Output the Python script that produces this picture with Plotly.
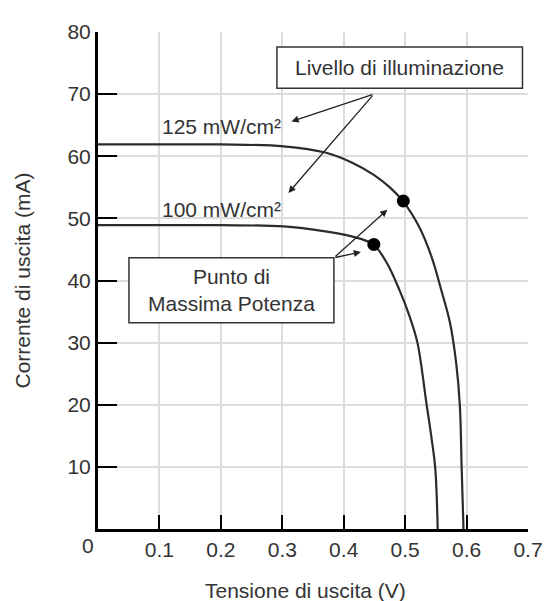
import plotly.graph_objects as go

# ---- data ----
v_125 = [0.0, 0.1, 0.2, 0.302, 0.370, 0.413, 0.449, 0.476, 0.497, 0.523, 0.543, 0.559, 0.573, 0.583, 0.589, 0.592, 0.595]
i_125 = [61.9, 61.9, 61.9, 61.6, 60.6, 59.0, 57.0, 54.9, 52.7, 48.6, 43.8, 38.4, 33.2, 26.8, 20.0, 9.8, 0.0]

v_100 = [0.0, 0.1, 0.2, 0.302, 0.370, 0.413, 0.439, 0.449, 0.471, 0.491, 0.507, 0.520, 0.535, 0.543, 0.549, 0.553]
i_100 = [48.9, 48.9, 48.9, 48.7, 47.9, 47.1, 46.3, 45.8, 42.7, 38.4, 34.3, 30.0, 20.0, 14.6, 9.8, 0.0]

mpp_v = [0.497, 0.449]
mpp_i = [52.8, 45.8]

x_ticks = [0.1, 0.2, 0.3, 0.4, 0.5, 0.6, 0.7]
x_labels = ["0.1", "0.2", "0.3", "0.4", "0.5", "0.6", "0.7"]
y_ticks = [10, 20, 30, 40, 50, 60, 70, 80]
y_labels = ["10", "20", "30", "40", "50", "60", "70", "80"]

FONT = "Liberation Sans, Arial, sans-serif"
TXT = "#333333"
FS = 21

fig = go.Figure()
for vv, ii in ((v_125, i_125), (v_100, i_100)):
    fig.add_trace(go.Scatter(x=vv, y=ii, mode="lines",
                             line=dict(color="#2b2b2b", width=2.2, shape="spline", smoothing=1.0),
                             showlegend=False))
fig.add_trace(go.Scatter(x=mpp_v, y=mpp_i, mode="markers", marker=dict(color="black", size=13), showlegend=False))

# boxes
fig.add_shape(type="rect", x0=0.2913, x1=0.691, y0=70.95, y1=77.6, xref="x", yref="y",
              line=dict(color="#333", width=1.5), fillcolor="white", layer="above")
fig.add_shape(type="rect", x0=0.0504, x1=0.384, y0=33.2, y1=43.65, xref="x", yref="y",
              line=dict(color="#333", width=1.5), fillcolor="white", layer="above")

ann = [
    dict(x=0.491, y=74.3, text="Livello di illuminazione"),
    dict(x=0.217, y=38.4, text="Punto di<br>Massima Potenza"),
    dict(x=0.2016, y=64.8, text="125 mW/cm²"),
    dict(x=0.2016, y=51.4, text="100 mW/cm²"),
]
for a in ann:
    fig.add_annotation(x=a["x"], y=a["y"], text=a["text"], showarrow=False, xref="x", yref="y",
                       xanchor="center", yanchor="middle",
                       font=dict(family=FONT, size=FS, color=TXT))

arrows = [
    (0.315, 65.6, 0.449, 70.0),
    (0.310, 54.1, 0.449, 70.0),
    (0.471, 51.4, 0.384, 43.65),
    (0.428, 44.6, 0.384, 43.65),
]
for hx, hy, tx, ty in arrows:
    fig.add_annotation(x=hx, y=hy, ax=tx, ay=ty, xref="x", yref="y", axref="x", ayref="y",
                       text="", showarrow=True, arrowhead=2, arrowsize=1.1, arrowwidth=1.3,
                       arrowcolor="#222")

# "0" at origin
fig.add_annotation(x=-0.0225, y=0, xref="paper", yref="paper", yshift=-16, text="0",
                   xanchor="center", yanchor="middle",
                   showarrow=False, font=dict(family=FONT, size=FS, color=TXT))
# axis titles
fig.add_annotation(x=0.483, y=0, xref="paper", yref="paper", yshift=-61, text="Tensione di uscita (V)",
                   xanchor="center", yanchor="middle",
                   showarrow=False, font=dict(family=FONT, size=FS, color=TXT))
fig.add_annotation(x=0, y=0.5, xref="paper", yref="paper", xshift=-76, text="Corrente di uscita (mA)",
                   xanchor="center", yanchor="middle",
                   textangle=-90, showarrow=False, font=dict(family=FONT, size=FS, color=TXT))

fig.update_xaxes(range=[0, 0.7], tickvals=x_ticks, ticktext=x_labels, ticks="inside", ticklen=14,
                 tickwidth=2, tickcolor="black", showline=True, linecolor="black", linewidth=3,
                 showgrid=True, gridcolor="#dcdcdc", gridwidth=2, zeroline=False,
                 ticklabeloverflow="allow",
                 tickfont=dict(family=FONT, size=FS, color=TXT))
fig.update_yaxes(range=[0, 80], tickvals=y_ticks, ticktext=y_labels, ticks="inside", ticklen=19,
                 tickwidth=2, tickcolor="black", showline=True, linecolor="black", linewidth=3,
                 showgrid=True, gridcolor="#dcdcdc", gridwidth=2, zeroline=False,
                 ticklabeloverflow="allow",
                 tickfont=dict(family=FONT, size=FS, color=TXT))

fig.update_layout(width=547, height=593, margin=dict(l=90, r=12, t=17, b=72),
                  paper_bgcolor="white", plot_bgcolor="white", showlegend=False)

fig.write_html("out.html")
